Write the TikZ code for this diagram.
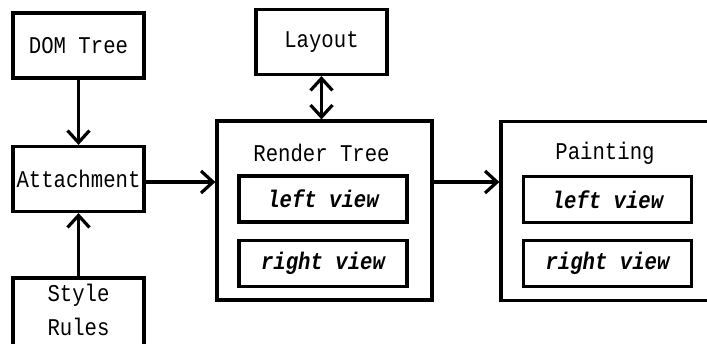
\documentclass[tikz,border=0pt]{standalone}
\usepackage{fontspec}
\usepackage{tikz}
\usetikzlibrary{positioning, arrows.meta}
\newfontfamily\boxfont{Liberation Mono}[FakeStretch=0.86]

\begin{document}
\begin{tikzpicture}[
  x=1pt, y=-1pt,
  node distance=15pt,
  every node/.style={font=\boxfont\fontsize{24}{28}\selectfont},
  stage/.style={rectangle, draw, line width=3.2pt, minimum width=131pt, minimum height=65pt, align=center, inner sep=0pt},
  holder/.style={rectangle, draw, line width=3.2pt, minimum width=215pt, minimum height=179pt, inner sep=0pt},
  view/.style={rectangle, draw, line width=3.2pt, minimum width=168pt, minimum height=46pt, inner sep=0pt, font=\boxfont\fontsize{24}{28}\selectfont\bfseries\itshape},
  arrow/.style={-{Straight Barb[length=12pt, width=22pt]}, line width=3.2pt},
  twoway/.style={{Straight Barb[length=12pt, width=22pt]}-{Straight Barb[length=12pt, width=22pt]}, line width=3.2pt}
]
  \clip (0,0) rectangle (707,344);

  % Left column: inputs
  \node[stage] (dom) at (78.5,45.5) {DOM Tree};
  \node[stage] (attach) at (78.5,179) {Attachment};
  \node[stage, minimum height=72pt] (rules) at (78.5,314) {};
  \node (rulestext) at (78.5,310) [align=center] {Style\\[6pt]Rules};

  % Render tree with its two views
  \node[holder] (render) at (324.5,210.5) {};
  \node[stage] (layout) at (321.5,42) {Layout};
  \node (rtitle) at (321.5,153) {Render Tree};
  \node[view] (rleft) at (323,199) {left view};
  \node[view, below=of rleft] (rright) {right view};

  % Painting with its two views
  \node[holder] (paint) at (608.5,211) {};
  \node (ptitle) at (605,153) {Painting};
  \node[view] (pleft) at (607.5,199.5) {left view};
  \node[view, below=of pleft] (pright) {right view};

  % Arrows
  \coordinate (flow) at ([yshift=-3pt]attach.east);
  \draw[arrow] (dom.south) -- (attach.north);
  \draw[arrow] (rules.north) -- (attach.south);
  \draw[arrow] (flow) -- (render.west |- flow);
  \draw[twoway] (layout.south) -- (layout.south |- render.north);
  \draw[arrow] (render.east |- flow) -- (paint.west |- flow);

\end{tikzpicture}
\end{document}
